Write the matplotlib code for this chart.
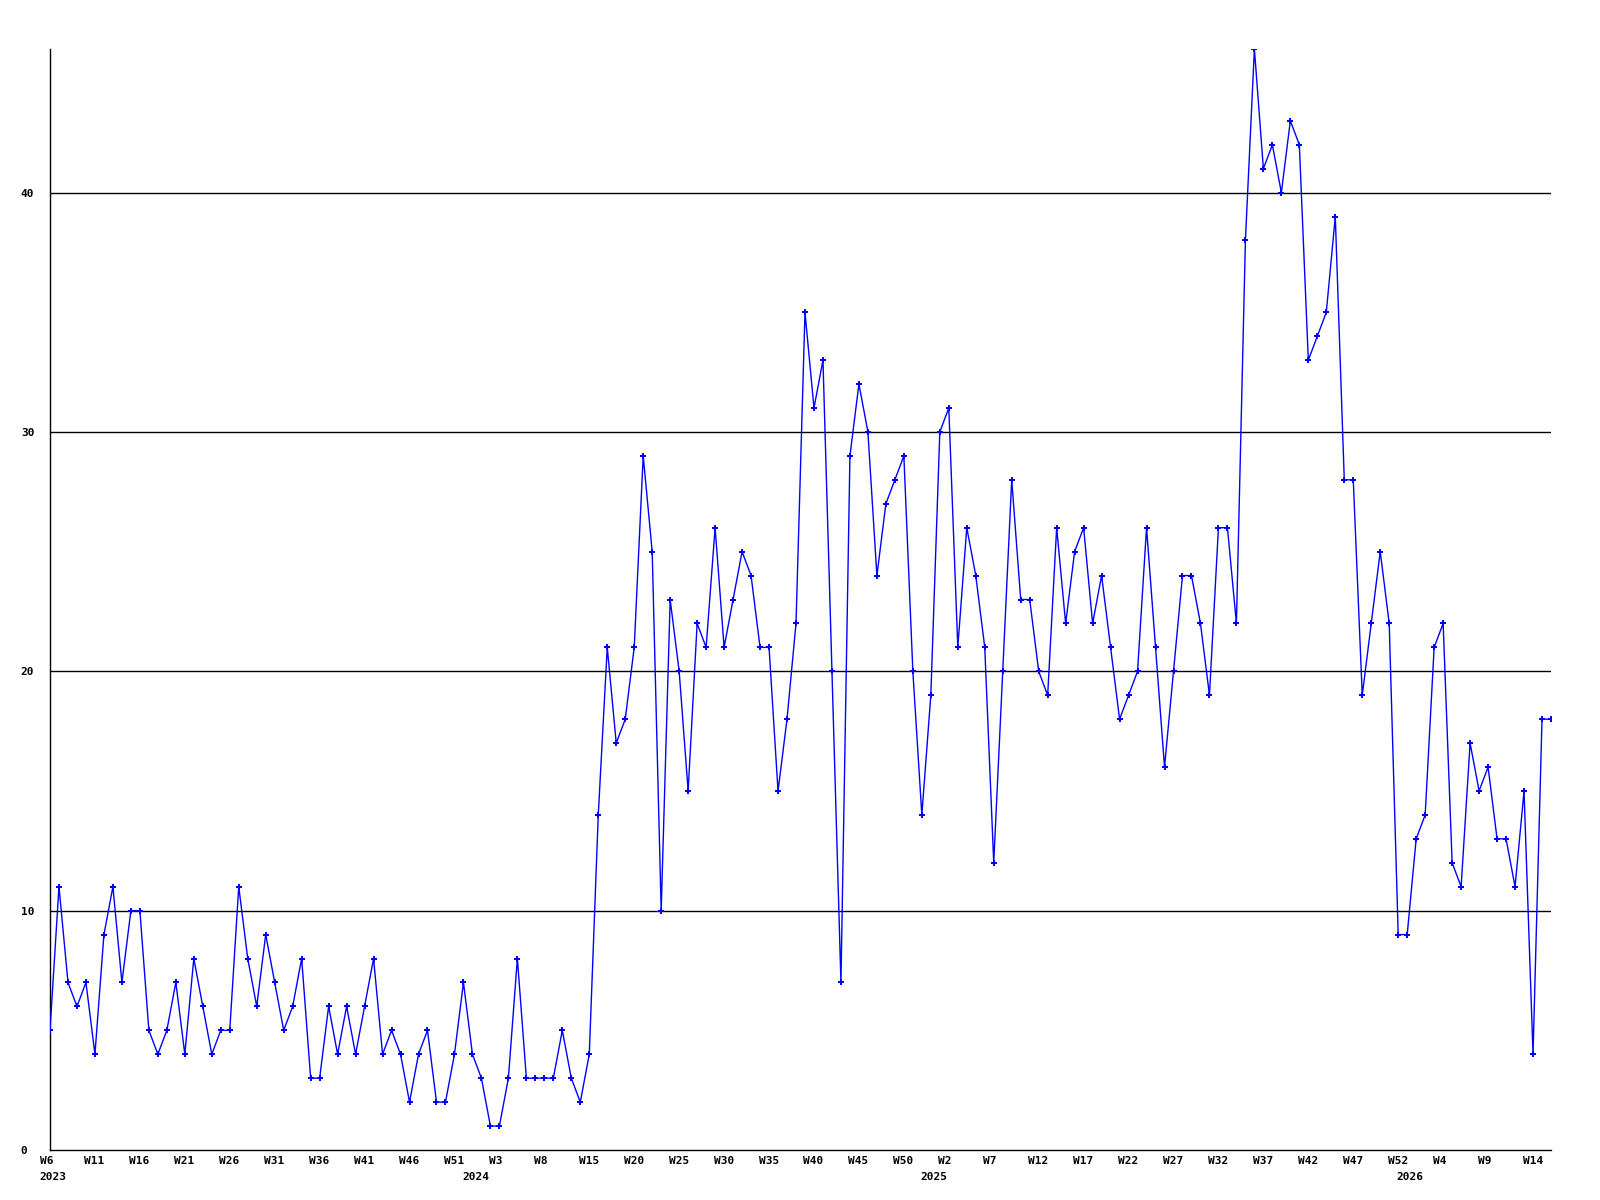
import matplotlib
matplotlib.use('Agg')
import matplotlib.pyplot as plt
from matplotlib.transforms import ScaledTranslation

plt.rcParams['font.family'] = 'DejaVu Sans Mono'
plt.rcParams['font.weight'] = 'bold'
plt.rcParams['font.size'] = 8

# weekly counts, 2023 W6 .. 2026 W15
values = [5, 11, 7, 6, 7, 4, 9, 11, 7, 10, 10, 5, 4, 5, 7, 4, 8, 6, 4, 5, 5, 11, 8, 6, 9, 7, 5, 6, 8, 3, 3, 6, 4,
          6, 4, 6, 8, 4, 5, 4, 2, 4, 5, 2, 2, 4, 7, 4, 3, 1, 1, 3, 8, 3, 3, 3, 3, 5, 3, 2, 4,
          14, 21, 17, 18, 21, 29, 25, 10, 23, 20, 15, 22, 21, 26, 21, 23, 25, 24, 21, 21, 15, 18, 22, 35, 31, 33, 20, 7,
          29, 32, 30, 24, 27, 28, 29, 20, 14, 19, 30, 31, 21, 26, 24, 21, 12, 20, 28, 23, 23, 20, 19, 26, 22, 25,
          26, 22, 24, 21, 18, 19, 20, 26, 21, 16, 20, 24, 24, 22, 19, 26, 26, 22,
          38, 46, 41, 42, 40, 43, 42, 33, 34, 35, 39, 28, 28,
          19, 22, 25, 22, 9, 9, 13, 14, 21, 22, 12, 11, 17, 15, 16, 13, 13, 11, 15, 4, 18, 18]

week_labels = ['W6', 'W11', 'W16', 'W21', 'W26', 'W31', 'W36', 'W41', 'W46', 'W51',
               'W3', 'W8', 'W15', 'W20', 'W25', 'W30', 'W35', 'W40', 'W45', 'W50',
               'W2', 'W7', 'W12', 'W17', 'W22', 'W27', 'W32', 'W37', 'W42', 'W47',
               'W52', 'W4', 'W9', 'W14']
years = ['2023', '2024', '2025', '2026']
year_pos = [0, 47, 98, 151]
y_ticks = [0, 10, 20, 30, 40]

x = list(range(len(values)))

fig = plt.figure(figsize=(16, 12), dpi=100)
ax = fig.add_axes([50/1600, 1 - 1150/1200, 1501/1600, 1101/1200])

ax.plot(x, values, color='#0000ff', lw=1.0, marker='P', ms=4.5, mew=0, zorder=3)

ax.set_xlim(0, len(values) - 1)
ax.set_ylim(0, 46)

for v in y_ticks[1:]:
    ax.axhline(v, color='black', lw=1.0, zorder=1)

ax.spines['top'].set_visible(False)
ax.spines['right'].set_visible(False)
ax.spines['left'].set_linewidth(1.0)
ax.spines['bottom'].set_linewidth(1.0)

ax.set_xticks(range(0, len(values), 5))
ax.set_xticklabels(week_labels)
ax.set_yticks(y_ticks)
ax.set_yticklabels([str(v) for v in y_ticks])
ax.tick_params(axis='x', length=0, pad=4.5)
ax.tick_params(axis='y', length=0, pad=21)

offset = ScaledTranslation(-10.5/100, 0, fig.dpi_scale_trans)
for lbl in ax.get_xticklabels():
    lbl.set_ha('left')
    lbl.set_transform(lbl.get_transform() + offset)
for lbl in ax.get_yticklabels():
    lbl.set_ha('left')

for yr, p in zip(years, year_pos):
    ax.annotate(yr, xy=(p, 0), xycoords=('data', 'axes fraction'),
                xytext=(-7.6, -19.5), textcoords='offset points',
                ha='left', va='center', fontsize=8, fontweight='bold')

fig.savefig('out.png', dpi=100)
